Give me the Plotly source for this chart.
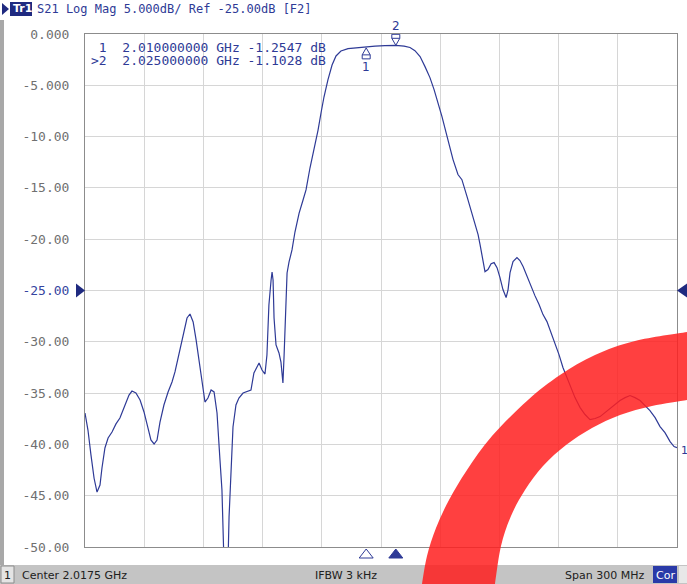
import plotly.graph_objects as go

# ---------------- data ----------------
freq_mhz = [1867.5, 1869.0, 1870.5, 1872.1, 1873.6, 1875.1, 1876.1, 1877.6, 1879.2, 1881.2,
            1883.2, 1885.2, 1887.8, 1889.8, 1891.3, 1893.3, 1895.4, 1897.4, 1899.4, 1900.9,
            1902.5, 1904.0, 1905.5, 1907.5, 1909.6, 1911.6, 1913.1, 1914.6, 1916.2, 1917.7,
            1919.2, 1920.7, 1922.3, 1923.8, 1925.3, 1926.8, 1928.3, 1929.8, 1931.4, 1932.9,
            1934.4, 1935.9, 1936.9, 1937.9, 1939.0, 1940.0, 1940.5, 1941.5, 1942.5, 1944.0,
            1945.5, 1947.6, 1950.1, 1951.6, 1953.1, 1954.7, 1955.7, 1957.2, 1958.7, 1959.7,
            1960.2, 1960.7, 1961.8, 1962.3, 1962.8, 1963.3, 1964.3, 1965.8, 1966.8, 1967.8,
            1968.4, 1968.9, 1969.9, 1970.9, 1972.4, 1973.9, 1976.0, 1978.0, 1979.5, 1981.5,
            1983.6, 1985.6, 1987.1, 1988.6, 1990.6, 1992.7, 1994.7, 1997.2, 2000.8, 2004.8,
            2010.0, 2014.5, 2019.5, 2025.0, 2029.2, 2032.2, 2034.7, 2037.3, 2039.8, 2042.3,
            2044.4, 2045.9, 2048.4, 2051.0, 2054.0, 2056.5, 2058.5, 2061.1, 2062.6, 2064.1,
            2065.6, 2066.7, 2067.7, 2068.7, 2070.2, 2071.7, 2073.3, 2074.8, 2076.3, 2077.8,
            2079.3, 2080.9, 2081.9, 2082.9, 2084.4, 2086.4, 2087.9, 2089.5, 2091.5, 2093.5,
            2095.5, 2097.6, 2099.6, 2101.6, 2103.7, 2105.7, 2107.7, 2109.7, 2111.8, 2113.8,
            2115.8, 2118.4, 2120.9, 2123.4, 2126.0, 2128.5, 2131.0, 2133.6, 2136.1, 2138.6,
            2141.2, 2143.7, 2146.2, 2148.8, 2151.3, 2153.8, 2156.4, 2158.9, 2161.4, 2164.0,
            2166.0, 2167.5]
s21_db = [-36.94, -38.6, -41.0, -43.3, -44.64, -43.96, -42.3, -40.35, -39.38, -38.79,
          -38.0, -37.43, -36.16, -35.19, -34.80, -34.99, -35.67, -36.84, -38.40, -39.57,
          -39.96, -39.57, -37.82, -36.16, -34.89, -33.92, -32.94, -31.58, -30.31, -28.85,
          -27.68, -27.29, -28.07, -29.82, -31.77, -34.21, -35.87, -35.48, -34.70, -34.89,
          -36.94, -41.52, -44.44, -51.3, -51.3, -51.3, -47.08, -42.50, -38.30, -36.16,
          -35.48, -34.99, -34.80, -34.70, -33.04, -32.36, -32.07, -32.75, -33.14, -31.29,
          -29.34, -26.41, -23.98, -23.20, -23.98, -27.68, -30.31, -31.09, -31.97, -34.02,
          -31.29, -27.88, -23.29, -22.22, -21.05, -19.30, -17.45, -16.18, -15.20, -13.06,
          -11.31, -9.36, -7.70, -6.14, -4.48, -3.02, -2.14, -1.66, -1.42, -1.34,
          -1.2547, -1.18, -1.13, -1.1028, -1.18, -1.32, -1.62, -2.20, -3.18, -4.25,
          -5.42, -6.40, -8.05, -10.0, -12.24, -13.70, -14.2, -15.85, -16.82, -17.80,
          -18.87, -19.55, -20.53, -21.50, -23.16, -22.96, -22.38, -22.28, -22.77, -23.74,
          -24.91, -25.69, -24.91, -23.25, -22.18, -21.79, -22.08, -22.67, -23.64, -24.52,
          -25.50, -26.37, -27.35, -28.03, -29.10, -30.08, -31.25, -32.51, -33.49, -34.46,
          -35.44, -36.41, -37.09, -37.58, -37.48, -37.29, -36.90, -36.51, -36.12, -35.73,
          -35.44, -35.24, -35.44, -35.73, -36.22, -36.70, -37.39, -38.26, -38.85, -39.73,
          -40.21, -40.31]

marker_ids = ["1", "2"]
marker_freq_mhz = [2010.0, 2025.0]
marker_db = [-1.2547, -1.1028]

y_tick_vals = [0, -5, -10, -15, -20, -25, -30, -35, -40, -45, -50]
y_tick_text = ["0.000", "-5.000", "-10.00", "-15.00", "-20.00", "-25.00",
               "-30.00", "-35.00", "-40.00", "-45.00", "-50.00"]
ref_level_db = -25.0

center_ghz = 2.0175
span_mhz = 300
x_div = 10

header_text = "S21 Log Mag 5.000dB/ Ref -25.00dB [F2]"
status_center = "Center 2.0175 GHz"
status_ifbw = "IFBW 3 kHz"
status_span = "Span 300 MHz"

# ---------------- layout geometry ----------------
W, H = 687, 584
ML, MR, MT, MB = 85, 10, 34, 37
PW, PH = W - ML - MR, H - MT - MB

def px(x):
    return (x - ML) / PW

def py(y):
    return (H - MB - y) / PH

NAVY = "#2e3a96"
MONO = "DejaVu Sans Mono"
SANS = "DejaVu Sans"

f_lo = center_ghz - span_mhz / 2000
f_hi = center_ghz + span_mhz / 2000
freq_ghz = [f / 1000 for f in freq_mhz]
mk_ghz = [f / 1000 for f in marker_freq_mhz]

fig = go.Figure()
fig.add_trace(go.Scatter(x=freq_ghz, y=s21_db, mode="lines",
                         line=dict(color=NAVY, width=1.2), hoverinfo="skip",
                         showlegend=False))

ticktext = []
for v, t in zip(y_tick_vals, y_tick_text):
    if v == ref_level_db:
        ticktext.append('<span style="color:#3545a0">' + t + '</span>')
    else:
        ticktext.append(t)

fig.update_layout(
    width=W, height=H,
    margin=dict(l=ML, r=MR, t=MT, b=MB, pad=0),
    paper_bgcolor="#ffffff", plot_bgcolor="#ffffff",
    showlegend=False,
    xaxis=dict(range=[f_lo, f_hi], tick0=f_lo, dtick=(f_hi - f_lo) / x_div,
               showgrid=True, gridcolor="#d6d6d6", gridwidth=1,
               showticklabels=False, ticks="", zeroline=False,
               showline=True, linecolor="#8c8c8c", linewidth=1, mirror=True),
    yaxis=dict(range=[-50, 0], tickvals=y_tick_vals, ticktext=ticktext,
               showgrid=True, gridcolor="#d6d6d6", gridwidth=1,
               ticks="", zeroline=False, ticklabelstandoff=12,
               tickfont=dict(family=MONO, size=13, color="#707070"),
               showline=True, linecolor="#8c8c8c", linewidth=1, mirror=True),
)

shapes = []
# status bar
shapes.append(dict(type="rect", xref="paper", yref="paper", x0=px(0), x1=px(W), y0=py(565), y1=py(H),
                   fillcolor="#c4c4c4", line=dict(width=0), layer="above"))
shapes.append(dict(type="rect", xref="paper", yref="paper", x0=px(1), x1=px(14), y0=py(566), y1=py(583),
                   fillcolor="#e4e4e4", line=dict(color="#8c8c8c", width=1), layer="above"))
shapes.append(dict(type="rect", xref="paper", yref="paper", x0=px(653), x1=px(677), y0=py(566), y1=py(583),
                   fillcolor="#2a3aa8", line=dict(width=0), layer="above"))
shapes.append(dict(type="rect", xref="paper", yref="paper", x0=px(679), x1=px(687), y0=py(566), y1=py(583),
                   fillcolor="#e8e8e8", line=dict(width=0), layer="above"))
# left strip
shapes.append(dict(type="rect", xref="paper", yref="paper", x0=px(0), x1=px(4), y0=py(20), y1=py(565),
                   fillcolor="#a8a8a8", line=dict(width=0), layer="above"))
# Tr1 header box
shapes.append(dict(type="path", xref="paper", yref="paper",
                   path=f"M{px(2)},{py(3)} L{px(9)},{py(9)} L{px(2)},{py(15)} Z",
                   fillcolor="#1f2a80", line=dict(width=0)))
shapes.append(dict(type="rect", xref="paper", yref="paper", x0=px(10), x1=px(32), y0=py(2), y1=py(16),
                   fillcolor="#1f2a80", line=dict(width=0)))
# reference level triangles
shapes.append(dict(type="path", xref="paper", yref="y", xsizemode="pixel", ysizemode="pixel",
                   xanchor=0, yanchor=ref_level_db, path="M0,0 L-9,7 L-9,-7 Z",
                   fillcolor="#1f2a80", line=dict(width=0)))
shapes.append(dict(type="path", xref="paper", yref="y", xsizemode="pixel", ysizemode="pixel",
                   xanchor=1, yanchor=ref_level_db, path="M0,0 L10,7 L10,-7 Z",
                   fillcolor="#1f2a80", line=dict(width=0)))
# markers on trace and bottom stimulus markers
for i, (mf, md) in enumerate(zip(mk_ghz, marker_db)):
    active = (i == len(mk_ghz) - 1)
    if active:
        p = "M0,0 L-4,7 L-4,11 L4,11 L4,7 Z M-4,7 L4,7"
    else:
        p = "M0,-1 L-4,-8 L-4,-12 L4,-12 L4,-8 Z M-4,-8 L4,-8"
    shapes.append(dict(type="path", xref="x", yref="y", xsizemode="pixel", ysizemode="pixel",
                       xanchor=mf, yanchor=md, path=p, fillcolor="rgba(255,255,255,0.9)",
                       line=dict(color=NAVY, width=1)))
    shapes.append(dict(type="path", xref="x", yref="paper", xsizemode="pixel", ysizemode="pixel",
                       xanchor=mf, yanchor=0, path="M0,-2 L-7,-11 L7,-11 Z",
                       fillcolor=NAVY if active else "#ffffff",
                       line=dict(color=NAVY, width=1)))

# red ring overlay (smooth edges via Catmull-Rom -> cubic Bezier)
outer = [(422, 584), (427, 556), (436, 528), (449, 500), (467, 470), (492, 436), (528, 400),
         (560, 375), (595, 355), (635, 341), (687, 332)]
inner = [(687, 400), (652, 406), (620, 415), (592, 428), (566, 445), (543, 466), (525, 490),
         (511, 516), (501, 546), (495, 584)]

def smooth(points):
    segs = []
    n = len(points)
    for i in range(n - 1):
        p0 = points[i - 1] if i > 0 else points[i]
        p1 = points[i]
        p2 = points[i + 1]
        p3 = points[i + 2] if i + 2 < n else points[i + 1]
        c1 = (p1[0] + (p2[0] - p0[0]) / 6, p1[1] + (p2[1] - p0[1]) / 6)
        c2 = (p2[0] - (p3[0] - p1[0]) / 6, p2[1] - (p3[1] - p1[1]) / 6)
        segs.append(f" C{px(c1[0]):.5f},{py(c1[1]):.5f} {px(c2[0]):.5f},{py(c2[1]):.5f} "
                    f"{px(p2[0]):.5f},{py(p2[1]):.5f}")
    return "".join(segs)

path = (f"M{px(outer[0][0]):.5f},{py(outer[0][1]):.5f}" + smooth(outer)
        + f" L{px(inner[0][0]):.5f},{py(inner[0][1]):.5f}" + smooth(inner) + " Z")
shapes.append(dict(type="path", xref="paper", yref="paper", path=path,
                   fillcolor="rgb(255,30,30)", opacity=0.85, line=dict(width=0), layer="above"))
fig.update_layout(shapes=shapes)

ann = []
def add_text(x, y, text, size=12, color=NAVY, family=MONO, xanchor="left", **kw):
    ann.append(dict(xref="paper", yref="paper", x=px(x), y=py(y), text=text, showarrow=False,
                    xanchor=xanchor, yanchor="middle", font=dict(family=family, size=size, color=color), **kw))

add_text(11, 9, "<b>Tr1</b>", size=11, color="#ffffff", family=SANS)
add_text(35, 9, header_text, size=12)
# marker readout
for i, (mid, mf, md) in enumerate(zip(marker_ids, marker_freq_mhz, marker_db)):
    prefix = ">" if i == len(marker_ids) - 1 else " "
    line = f"{prefix}{mid}  {mf/1000:.9f} GHz {md:.4f} dB"
    add_text(89, 47 + 13 * i, line.replace(" ", "&nbsp;"), size=13)
# status bar
add_text(7.5, 575, "1", size=11, color="#202020", family=SANS, xanchor="center")
add_text(20, 575, status_center, size=11, color="#202020", family=SANS)
add_text(313, 575, status_ifbw, size=11, color="#202020", family=SANS)
add_text(563, 575, status_span, size=11, color="#202020", family=SANS)
add_text(665, 575, "Cor", size=11, color="#ffffff", family=SANS, xanchor="center")
add_text(679, 450, "1", size=11, color=NAVY, family=SANS)

# marker labels on trace
for i, (mid, mf, md) in enumerate(zip(marker_ids, mk_ghz, marker_db)):
    active = (i == len(marker_ids) - 1)
    ann.append(dict(xref="x", yref="y", x=mf, y=md, text=mid, showarrow=False,
                    yshift=19 if active else -20, font=dict(family=SANS, size=12, color=NAVY)))

fig.update_layout(annotations=ann)
fig.write_html("out.html", config={"displayModeBar": False},
               post_script="document.body.style.margin='0';")
